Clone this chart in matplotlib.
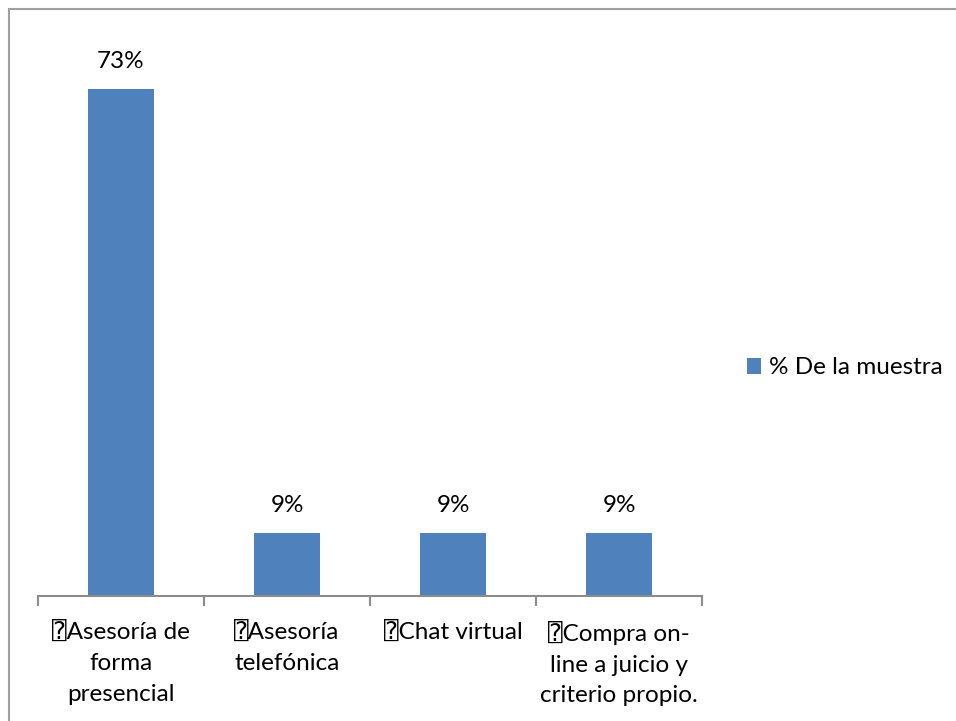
import matplotlib
matplotlib.use('Agg')
import matplotlib.pyplot as plt
from matplotlib.patches import Rectangle

plt.rcParams['font.family'] = ['Lato', 'DejaVu Sans', 'DejaVu Sans Mono']

categories = [
    '\u2370Asesoría de\nforma\npresencial',
    '\u2370Asesoría\ntelefónica',
    '\u2370Chat virtual',
    '\u2370Compra on-\nline a juicio y\ncriterio propio.',
]
values = [73, 9, 9, 9]
series_name = '% De la muestra'

BAR_COLOR = '#4F81BD'
AXIS_COLOR = '#8C8C8C'

fig = plt.figure(figsize=(9.56, 7.21), dpi=100, facecolor='white')

# thin grey frame round the chart area
fig.patches.append(Rectangle((9 / 956, -0.1), 1.2, 1.1 - 9 / 721,
                             transform=fig.transFigure, fill=False,
                             edgecolor='#A0A0A0', linewidth=1.5))

ax = fig.add_axes([38 / 956, 125 / 721, 664 / 956, 576 / 721])
xs = list(range(len(values)))
bars = ax.bar(xs, values, width=0.4, color=BAR_COLOR, label=series_name, zorder=2)

for x, v in zip(xs, values):
    ax.annotate(f'{v}%', xy=(x, v), xytext=(0, 20), textcoords='offset points',
                ha='center', va='center', fontsize=17.5, color='black')

ax.set_xlim(-0.5, len(values) - 0.5)
ax.set_ylim(0, 82.9)

for side in ('left', 'right', 'top'):
    ax.spines[side].set_visible(False)
ax.spines['bottom'].set_color(AXIS_COLOR)
ax.spines['bottom'].set_linewidth(1.5)

ax.set_yticks([])
ax.set_xticks(xs)
ax.set_xticklabels(categories, fontsize=17.5, linespacing=1.57, va='top')
ax.tick_params(axis='x', which='major', length=0, pad=18)
ax.set_xticks([i - 0.5 for i in range(len(values) + 1)], minor=True)
ax.tick_params(axis='x', which='minor', length=7.5, width=1.5, color=AXIS_COLOR)

fig.legend(handles=[bars], labels=[series_name], loc='center left',
           bbox_to_anchor=(737 / 956, 1 - 368 / 721), frameon=False,
           fontsize=17.5, handlelength=0.6, handleheight=0.6,
           handletextpad=0.3, borderaxespad=0)

fig.savefig('out.png', dpi=100, facecolor='white')
